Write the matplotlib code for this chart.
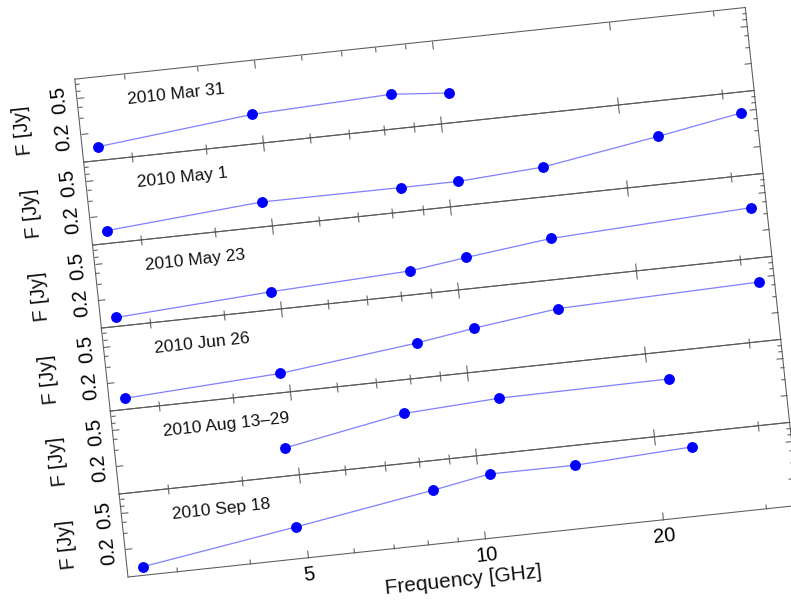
import numpy as np
import matplotlib
matplotlib.use("Agg")
import matplotlib.pyplot as plt
from matplotlib.transforms import Affine2D, blended_transform_factory
from matplotlib.scale import LogTransform
import mpl_toolkits.axisartist.floating_axes as floating_axes
from mpl_toolkits.axisartist.grid_finder import FixedLocator, DictFormatter

plt.rcParams['font.family'] = ['Liberation Sans', 'DejaVu Sans']

# ---------------- data ----------------
epochs = ["2010 Mar 31", "2010 May 1", "2010 May 23", "2010 Jun 26",
          "2010 Aug 13\u201329", "2010 Sep 18"]

freq_mar31 = [2.64, 4.85, 8.35, 10.45]
flux_mar31 = [0.141, 0.209, 0.238, 0.211]

freq_may1 = [2.64, 4.85, 8.35, 10.45, 14.60, 23.05, 32.0]
flux_may1 = [0.138, 0.186, 0.184, 0.184, 0.210, 0.331, 0.474]

freq_may23 = [2.64, 4.85, 8.35, 10.45, 14.60, 32.0]
flux_may23 = [0.125, 0.157, 0.182, 0.219, 0.280, 0.354]

freq_jun26 = [2.64, 4.85, 8.35, 10.45, 14.60, 32.0]
flux_jun26 = [0.132, 0.162, 0.240, 0.297, 0.387, 0.439]

freq_aug = [4.8, 7.7, 11.2, 21.7]
flux_aug = [0.202, 0.346, 0.393, 0.404]

freq_sep18 = [2.64, 4.85, 8.35, 10.45, 14.60, 23.05]
flux_sep18 = [0.124, 0.222, 0.383, 0.493, 0.488, 0.564]

x_major = [5.0, 10.0, 20.0]
x_major_labels = ["5", "10", "20"]
x_minor = [3.0, 4.0, 6.0, 7.0, 8.0, 9.0, 30.0]
y_major = [0.2, 0.5]
y_major_labels = ["0.2", "0.5"]
y_minor = [0.3, 0.4, 0.6, 0.7]
xlim = (2.48, 34.0)
ylim = (0.1, 0.8)

panels = [
    (epochs[0], freq_mar31, flux_mar31),
    (epochs[1], freq_may1, flux_may1),
    (epochs[2], freq_may23, flux_may23),
    (epochs[3], freq_jun26, flux_jun26),
    (epochs[4], freq_aug, flux_aug),
    (epochs[5], freq_sep18, flux_sep18),
]

# ---------------- layout ----------------
FIG_W, FIG_H, DPI = 791, 603, 100
fig = plt.figure(figsize=(FIG_W / DPI, FIG_H / DPI), dpi=DPI)
fig.patch.set_facecolor("white")

THETA = 6.1                 # rotation of the whole frame, degrees
SX, SY = 593.0, 92.4        # pixels per decade (x, y)
ORIGIN = np.array([128.0, 26.0])   # bottom-left corner of the stack, px

SPINE = "#5a5a5a"
LINE_C = "#8080ff"
MARK_C = "#0000ff"

logtr = blended_transform_factory(LogTransform(10), LogTransform(10))
rot = Affine2D().scale(SX, SY).rotate_deg(THETA)
tr = logtr + rot

lx = np.log10(xlim[1] / xlim[0])
ly = np.log10(ylim[1] / ylim[0])
panel_w = SX * lx
panel_h = SY * ly
th = np.deg2rad(THETA)
udir = np.array([np.cos(th), np.sin(th)])
vdir = np.array([-np.sin(th), np.cos(th)])

ext = (xlim[0], xlim[1], ylim[0], ylim[1])
n = len(panels)
for i, (label, fr, fl) in enumerate(panels):
    k = n - 1 - i
    gh = floating_axes.GridHelperCurveLinear(
        tr, extremes=ext,
        grid_locator1=FixedLocator(x_major),
        grid_locator2=FixedLocator(y_major),
        tick_formatter1=DictFormatter(dict(zip(x_major, x_major_labels))),
        tick_formatter2=DictFormatter(dict(zip(y_major, y_major_labels))))
    ghm = floating_axes.GridHelperCurveLinear(
        tr, extremes=ext,
        grid_locator1=FixedLocator(x_minor),
        grid_locator2=FixedLocator(y_minor),
        tick_formatter1=DictFormatter({}),
        tick_formatter2=DictFormatter({}))
    ax = fig.add_axes([0, 0, 1, 1], axes_class=floating_axes.FloatingAxes,
                      grid_helper=gh)
    x0, x1 = ax.get_xlim()
    y0, y1 = ax.get_ylim()
    w, h = x1 - x0, y1 - y0
    c = ORIGIN + udir * panel_w / 2 + vdir * panel_h * (k + 0.5)
    ax.set_position([(c[0] - w / 2) / FIG_W, (c[1] - h / 2) / FIG_H,
                     w / FIG_W, h / FIG_H])
    ax.patch.set_facecolor("none")

    for side in ["left", "right", "bottom", "top"]:
        art = ax.axis[side]
        art.line.set_color(SPINE)
        art.line.set_linewidth(0.75)
        art.major_ticks.set_color(SPINE)
        art.major_ticks.set_markeredgewidth(0.75)
        art.major_ticks.set_ticksize(5.8 if side in ("bottom", "top") else 5.0)
        art.major_ticklabels.set_fontsize(14.5)
        mn = ghm.new_fixed_axis(side, axes=ax)
        mn.line.set_visible(False)
        mn.major_ticklabels.set_visible(False)
        mn.label.set_visible(False)
        mn.major_ticks.set_color(SPINE)
        mn.major_ticks.set_markeredgewidth(0.75)
        mn.major_ticks.set_ticksize(3.6 if side in ("bottom", "top") else 3.0)
        ax.axis[side + "_minor"] = mn

    ax.axis["left"].major_ticklabels.set_axis_direction("top")
    ax.axis["left"].major_ticklabels.set_pad(8.5)
    ax.axis["bottom"].major_ticklabels.set_pad(6.0)
    if k != 0:
        ax.axis["bottom"].major_ticklabels.set_visible(False)

    aux = ax.get_aux_axes(tr)
    aux.plot(fr, fl, "-", color=LINE_C, lw=0.9, zorder=2)
    aux.plot(fr, fl, "o", color=MARK_C, ms=6.8, zorder=3)

    frac = (Affine2D().scale(lx, ly)
            .translate(np.log10(xlim[0]), np.log10(ylim[0]))
            + rot + ax.transData)
    ax.text(0.075, 0.685, label, transform=frac, rotation=THETA,
            rotation_mode="anchor", ha="left", va="center", fontsize=12.5,
            color="#111111")
    ax.text(-0.085, 0.46, "F [Jy]", transform=frac, rotation=90 + THETA,
            rotation_mode="anchor", ha="center", va="center", fontsize=14.5,
            color="#111111")
    if k == 0:
        ax.text(0.494, -0.464, "Frequency [GHz]", transform=frac,
                rotation=THETA, rotation_mode="anchor", ha="center",
                va="center", fontsize=15, color="#111111")

fig.savefig("out.png", dpi=DPI, facecolor="white")
